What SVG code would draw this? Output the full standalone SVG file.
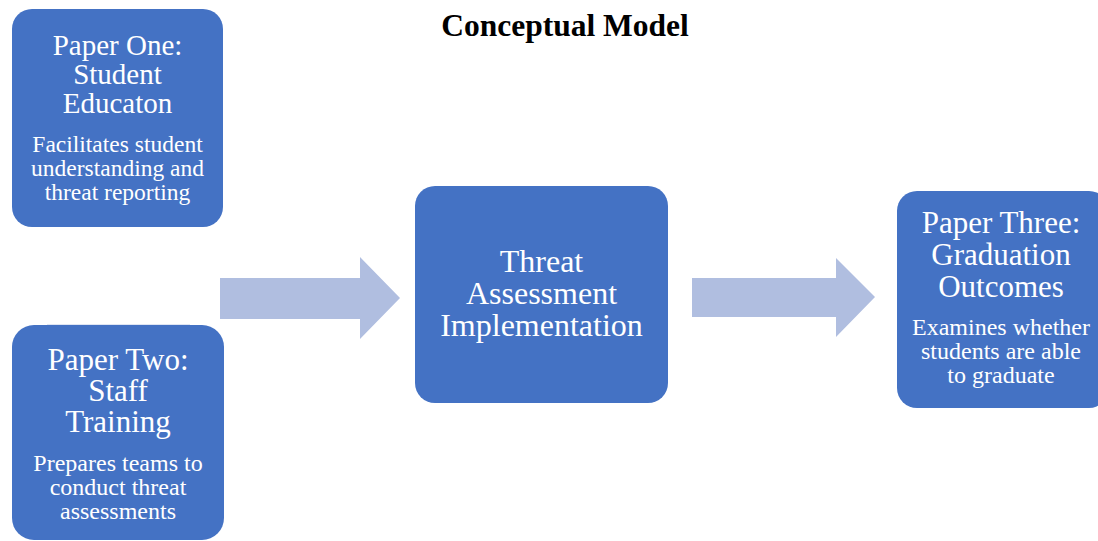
<svg xmlns="http://www.w3.org/2000/svg" width="1098" height="541" viewBox="0 0 1098 541">
<style>
.box{fill:#4472C4;}
.arrow{fill:#B0BEE0;}
text{font-family:"Liberation Serif","Times New Roman",serif;fill:#fff;text-anchor:middle;}
.title{fill:#000;font-weight:bold;font-size:31.5px;}
</style>
<rect width="1098" height="541" fill="#fff"/>
<text class="title" x="565" y="36">Conceptual Model</text>
<g id="connectors">
<polygon class="arrow" points="220,278 360,278 360,257 400,298 360,339 360,319 220,319"/>
<polygon class="arrow" points="692,278 836,278 836,258 875,297 836,337 836,317 692,317"/>
</g>
<g id="paper-one">
<rect class="box" x="12" y="9" width="211" height="218" rx="20"/>
<text font-size="29"><tspan x="117.5" y="55">Paper One:</tspan><tspan x="117.5" y="84">Student</tspan><tspan x="117.5" y="113">Educaton</tspan></text>
<text font-size="23.5"><tspan x="117.5" y="152">Facilitates student</tspan><tspan x="117.5" y="176">understanding and</tspan><tspan x="117.5" y="200">threat reporting</tspan></text>
</g>
<g id="paper-two">
<line x1="47" y1="324.5" x2="190" y2="324.5" stroke="#dfe5f3" stroke-width="1"/>
<rect class="box" x="12" y="325" width="212" height="215" rx="22"/>
<text font-size="31"><tspan x="118" y="370">Paper Two:</tspan><tspan x="118" y="401">Staff</tspan><tspan x="118" y="432">Training</tspan></text>
<text font-size="24"><tspan x="118" y="471">Prepares teams to</tspan><tspan x="118" y="495">conduct threat</tspan><tspan x="118" y="519">assessments</tspan></text>
</g>
<g id="threat-assessment">
<rect class="box" x="415" y="186" width="253" height="217" rx="20"/>
<text font-size="32"><tspan x="541.5" y="272">Threat</tspan><tspan x="541.5" y="304">Assessment</tspan><tspan x="541.5" y="336">Implementation</tspan></text>
</g>
<g id="paper-three">
<rect class="box" x="897" y="191" width="212" height="217" rx="20"/>
<text font-size="31"><tspan x="1001" y="233">Paper Three:</tspan><tspan x="1001" y="265">Graduation</tspan><tspan x="1001" y="297">Outcomes</tspan></text>
<text font-size="24"><tspan x="1001" y="335">Examines whether</tspan><tspan x="1001" y="359">students are able</tspan><tspan x="1001" y="383">to graduate</tspan></text>
</g>
</svg>
